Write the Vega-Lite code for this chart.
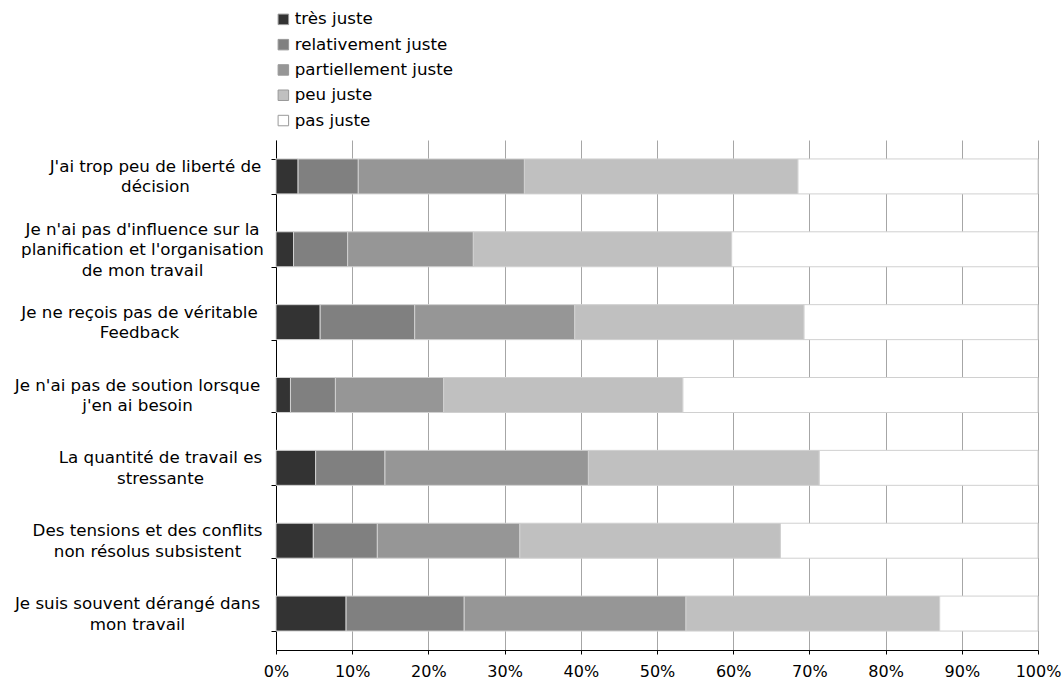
{
  "$schema": "https://vega.github.io/schema/vega-lite/v6.json",
  "autosize": {"type": "none"},
  "padding": {"left": 276, "top": 140, "right": 26, "bottom": 30},
  "width": 762,
  "height": 510,
  "background": "white",
  "config": {
    "font": "DejaVu Sans",
    "view": {"stroke": null},
    "axis": {"labelFont": "DejaVu Sans", "labelColor": "#000000", "labelFontSize": 16},
    "legend": {"labelFont": "DejaVu Sans", "labelColor": "#000000", "labelFontSize": 16.7}
  },
  "data": {
    "values": [
      {"q": "J'ai trop peu de liberté de|décision", "c": "très juste", "k": 1, "v": 2.9},
      {"q": "J'ai trop peu de liberté de|décision", "c": "relativement juste", "k": 2, "v": 7.9},
      {"q": "J'ai trop peu de liberté de|décision", "c": "partiellement juste", "k": 3, "v": 21.8},
      {"q": "J'ai trop peu de liberté de|décision", "c": "peu juste", "k": 4, "v": 35.9},
      {"q": "J'ai trop peu de liberté de|décision", "c": "pas juste", "k": 5, "v": 31.5},
      {"q": "Je n'ai pas d'influence sur la|planification et l'organisation|de mon travail", "c": "très juste", "k": 1, "v": 2.3},
      {"q": "Je n'ai pas d'influence sur la|planification et l'organisation|de mon travail", "c": "relativement juste", "k": 2, "v": 7.1},
      {"q": "Je n'ai pas d'influence sur la|planification et l'organisation|de mon travail", "c": "partiellement juste", "k": 3, "v": 16.5},
      {"q": "Je n'ai pas d'influence sur la|planification et l'organisation|de mon travail", "c": "peu juste", "k": 4, "v": 33.9},
      {"q": "Je n'ai pas d'influence sur la|planification et l'organisation|de mon travail", "c": "pas juste", "k": 5, "v": 40.2},
      {"q": "Je ne reçois pas de véritable|Feedback", "c": "très juste", "k": 1, "v": 5.8},
      {"q": "Je ne reçois pas de véritable|Feedback", "c": "relativement juste", "k": 2, "v": 12.4},
      {"q": "Je ne reçois pas de véritable|Feedback", "c": "partiellement juste", "k": 3, "v": 21.0},
      {"q": "Je ne reçois pas de véritable|Feedback", "c": "peu juste", "k": 4, "v": 30.1},
      {"q": "Je ne reçois pas de véritable|Feedback", "c": "pas juste", "k": 5, "v": 30.7},
      {"q": "Je n'ai pas de soution lorsque|j'en ai besoin", "c": "très juste", "k": 1, "v": 1.9},
      {"q": "Je n'ai pas de soution lorsque|j'en ai besoin", "c": "relativement juste", "k": 2, "v": 5.9},
      {"q": "Je n'ai pas de soution lorsque|j'en ai besoin", "c": "partiellement juste", "k": 3, "v": 14.2},
      {"q": "Je n'ai pas de soution lorsque|j'en ai besoin", "c": "peu juste", "k": 4, "v": 31.4},
      {"q": "Je n'ai pas de soution lorsque|j'en ai besoin", "c": "pas juste", "k": 5, "v": 46.6},
      {"q": "La quantité de travail es|stressante", "c": "très juste", "k": 1, "v": 5.2},
      {"q": "La quantité de travail es|stressante", "c": "relativement juste", "k": 2, "v": 9.1},
      {"q": "La quantité de travail es|stressante", "c": "partiellement juste", "k": 3, "v": 26.7},
      {"q": "La quantité de travail es|stressante", "c": "peu juste", "k": 4, "v": 30.3},
      {"q": "La quantité de travail es|stressante", "c": "pas juste", "k": 5, "v": 28.7},
      {"q": "Des tensions et des conflits|non résolus subsistent", "c": "très juste", "k": 1, "v": 4.9},
      {"q": "Des tensions et des conflits|non résolus subsistent", "c": "relativement juste", "k": 2, "v": 8.4},
      {"q": "Des tensions et des conflits|non résolus subsistent", "c": "partiellement juste", "k": 3, "v": 18.7},
      {"q": "Des tensions et des conflits|non résolus subsistent", "c": "peu juste", "k": 4, "v": 34.2},
      {"q": "Des tensions et des conflits|non résolus subsistent", "c": "pas juste", "k": 5, "v": 33.8},
      {"q": "Je suis souvent dérangé dans|mon travail", "c": "très juste", "k": 1, "v": 9.2},
      {"q": "Je suis souvent dérangé dans|mon travail", "c": "relativement juste", "k": 2, "v": 15.5},
      {"q": "Je suis souvent dérangé dans|mon travail", "c": "partiellement juste", "k": 3, "v": 29.1},
      {"q": "Je suis souvent dérangé dans|mon travail", "c": "peu juste", "k": 4, "v": 33.3},
      {"q": "Je suis souvent dérangé dans|mon travail", "c": "pas juste", "k": 5, "v": 12.9}
    ]
  },
  "mark": {"type": "bar", "stroke": "#d0d0d0", "strokeWidth": 1},
  "encoding": {
    "y": {
      "field": "q",
      "type": "nominal",
      "sort": null,
      "scale": {"paddingInner": 0.52, "paddingOuter": 0.26},
      "axis": {
        "title": null,
        "labelExpr": "datum.value == null ? '' : split(datum.value, '|')",
        "labelAlign": "center",
        "labelBaseline": "middle",
        "labelFontSize": 16.7,
        "labelLineHeight": 20.5,
        "labelLimit": 400,
        "labelOffset": {
          "condition": {"test": "indexof('' + datum.value,'influence')>=0", "value": -20},
          "value": -10
        },
        "labelPadding": {
          "condition": [
            {"test": "indexof('' + datum.value,'liberté')>=0", "value": 116},
            {"test": "indexof('' + datum.value,'influence')>=0", "value": 129},
            {"test": "indexof('' + datum.value,'reçois')>=0", "value": 132},
            {"test": "indexof('' + datum.value,'soution')>=0", "value": 134},
            {"test": "indexof('' + datum.value,'quantité')>=0", "value": 111},
            {"test": "indexof('' + datum.value,'tensions')>=0", "value": 124}
          ],
          "value": 134
        },
        "tickBand": "extent",
        "tickSize": 5,
        "tickColor": "#000000",
        "domainColor": "#000000",
        "grid": false
      }
    },
    "x": {
      "field": "v",
      "type": "quantitative",
      "stack": "normalize",
      "scale": {"domain": [0, 1], "nice": false},
      "axis": {
        "title": null,
        "format": ".0%",
        "values": [0, 0.1, 0.2, 0.3, 0.4, 0.5, 0.6, 0.7, 0.8, 0.9, 1],
        "grid": true,
        "gridColor": "#a6a6a6",
        "gridWidth": 1,
        "tickSize": 4,
        "tickColor": "#000000",
        "domainColor": "#000000",
        "labelPadding": 9,
        "labelFlush": false
      }
    },
    "color": {
      "field": "c",
      "type": "nominal",
      "sort": ["très juste", "relativement juste", "partiellement juste", "peu juste", "pas juste"],
      "scale": {
        "domain": ["très juste", "relativement juste", "partiellement juste", "peu juste", "pas juste"],
        "range": ["#333333", "#808080", "#969696", "#c0c0c0", "#ffffff"]
      },
      "legend": {
        "title": null,
        "orient": "none",
        "legendX": -1,
        "legendY": -129,
        "symbolType": "square",
        "symbolSize": 110,
        "symbolStrokeColor": "#999999",
        "symbolStrokeWidth": 1,
        "rowPadding": 7.3,
        "labelOffset": 3,
        "padding": 0
      }
    },
    "order": {"field": "k", "type": "quantitative"}
  }
}
